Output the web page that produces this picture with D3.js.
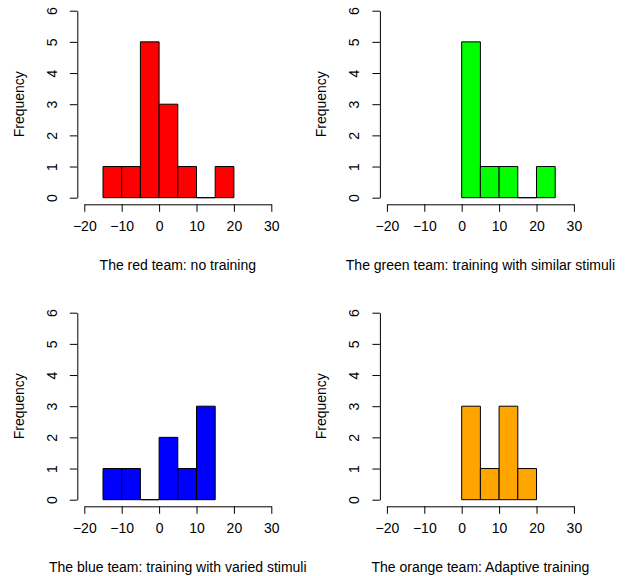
<!DOCTYPE html>
<html>
<head>
<meta charset="utf-8">
<script src="https://cdn.jsdelivr.net/npm/d3@7"></script>
<style>
body { margin: 0; background: #fff; }
svg text { font-family: "Liberation Sans", Arial, sans-serif; font-size: 14px; fill: #000; }
</style>
</head>
<body>
<div id="chart"></div>
<script>
// histogram bins (width 5) and counts for each team
var redBins = [-15, -10, -5, 0, 5, 10, 15];
var redCounts = [1, 1, 5, 3, 1, 0, 1];
var greenBins = [0, 5, 10, 15, 20];
var greenCounts = [5, 1, 1, 0, 1];
var blueBins = [-15, -10, -5, 0, 5, 10];
var blueCounts = [1, 1, 0, 2, 1, 3];
var orangeBins = [0, 5, 10, 15];
var orangeCounts = [3, 1, 3, 1];
var binWidth = 5;

var titles = [
    "The red team: no training",
    "The green team: training with similar stimuli",
    "The blue team: training with varied stimuli",
    "The orange team: Adaptive training"
];
var colors = ["#ff0000", "#00ff00", "#0000ff", "#ffa500"];
var xTicks = [-20, -10, 0, 10, 20, 30];
var yTicks = [0, 1, 2, 3, 4, 5, 6];

var panels = [
    {bins: redBins, counts: redCounts},
    {bins: greenBins, counts: greenCounts},
    {bins: blueBins, counts: blueCounts},
    {bins: orangeBins, counts: orangeCounts}
];

var width = 625, height = 576;
var svg = d3.select("#chart").append("svg")
    .attr("width", width)
    .attr("height", height);

var x = d3.scaleLinear().domain([-20, 30]).range([84.3, 271.3]);
var y = d3.scaleLinear().domain([0, 6]).range([197.7, 10.7]);
var xAxisY = 204.3;
var yAxisX = 77.3;

function barPath(x0, x1, y0, y1) {
    return "M" + x0 + "," + y0 + "H" + x1 + "V" + y1 + "H" + x0 + "Z";
}

panels.forEach(function(p, i) {
    var col = i % 2, row = Math.floor(i / 2);
    var g = svg.append("g")
        .attr("transform", "translate(" + (col * 302.6) + "," + (row * 302) + ")");

    g.selectAll("path.bar")
        .data(p.counts)
        .enter().append("path")
        .attr("class", "bar")
        .attr("d", function(d, j) {
            var b = p.bins[j];
            return barPath(x(b), x(b + binWidth), y(0), y(d));
        })
        .attr("fill", colors[i])
        .attr("stroke", "#000")
        .attr("stroke-width", 1);

    var xAxis = g.append("g")
        .attr("transform", "translate(0," + xAxisY + ")")
        .call(d3.axisBottom(x).tickValues(xTicks).tickFormat(d3.format("d"))
            .tickSize(7.5).tickSizeOuter(0).tickPadding(9));
    xAxis.selectAll("text").style("font-size", "14px");

    var yAxis = g.append("g")
        .attr("transform", "translate(" + yAxisX + ",0)")
        .call(d3.axisLeft(y).tickValues(yTicks).tickFormat(d3.format("d"))
            .tickSize(7.5).tickSizeOuter(0));
    yAxis.selectAll(".tick text")
        .attr("x", null)
        .attr("dy", "0.35em")
        .attr("text-anchor", "middle")
        .attr("transform", "translate(-25.6,0) rotate(-90)")
        .style("font-size", "14px");
    g.selectAll(".domain, .tick line").attr("stroke", "#000");

    g.append("text")
        .attr("transform", "translate(" + (yAxisX - 53.5) + "," + ((y(0) + y(6)) / 2) + ") rotate(-90)")
        .attr("text-anchor", "middle")
        .text("Frequency");

    g.append("text")
        .attr("x", (x(-20) + x(30)) / 2)
        .attr("y", xAxisY + 66)
        .attr("text-anchor", "middle")
        .text(titles[i]);
});
</script>
</body>
</html>
